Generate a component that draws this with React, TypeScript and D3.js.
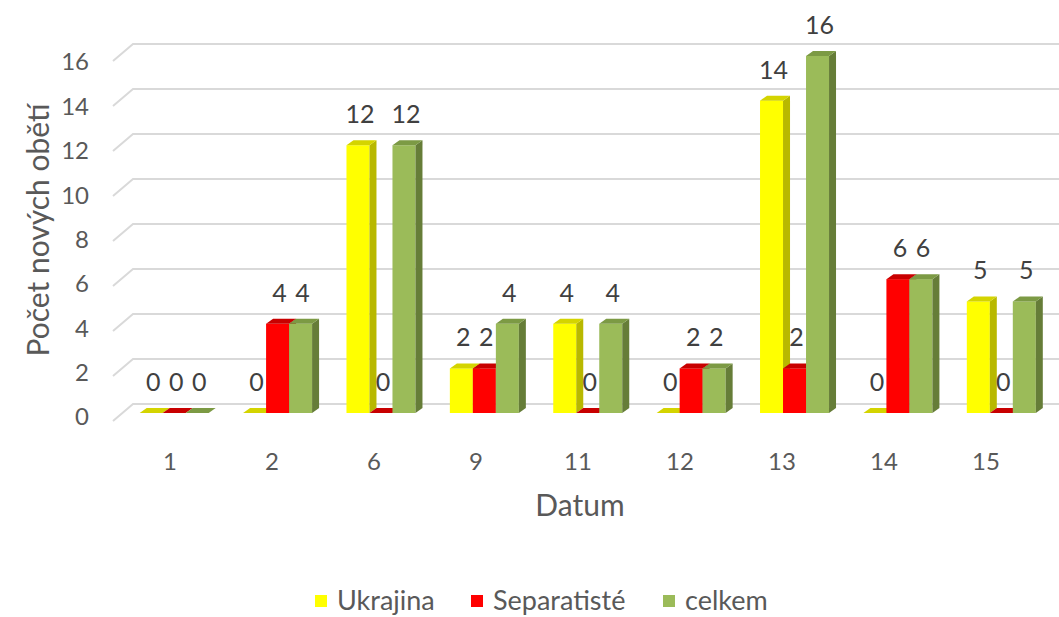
import React from 'react';
import * as d3 from 'd3';

const categories = ['1', '2', '6', '9', '11', '12', '13', '14', '15'];
const ukrajina = [0, 0, 12, 2, 4, 0, 14, 0, 5];
const separatiste = [0, 4, 0, 2, 0, 2, 2, 6, 0];
const celkem = [0, 4, 12, 4, 4, 2, 16, 6, 5];
const yTicks = [0, 2, 4, 6, 8, 10, 12, 14, 16];

const series = [
  { name: 'Ukrajina', values: ukrajina, front: '#FFFF00', side: '#B8B800', top: '#D4D400' },
  { name: 'Separatisté', values: separatiste, front: '#FF0000', side: '#B00000', top: '#C80000' },
  { name: 'celkem', values: celkem, front: '#9BBB59', side: '#667D38', top: '#7C9A44' },
];

const W = 1059;
const H = 617;
const font = 'Lato, "Open Sans", sans-serif';
const textColor = '#595959';

export default function App() {
  // 3D look: bars on a plane slightly behind the axis labels
  const dx = 7;
  const dy = 5;
  const barW = 23;

  const xLabel = d3.scalePoint<string>().domain(categories).range([170, 986]);
  const xGroup = d3.scaleBand<string>().domain(categories).range([122.5, 1053]).paddingInner(0).paddingOuter(0);
  const groupStart = (c: string) => xGroup(c)! + (xGroup.bandwidth() - 3 * barW) / 2;

  const yBar = d3.scaleLinear().domain([0, 16]).range([413, 56]);
  const yGrid = d3.scaleLinear().domain([0, 16]).range([404, 44]);
  const yTick = d3.scaleLinear().domain([0, 16]).range([417, 62]);

  const bars: JSX.Element[] = [];
  const labels: JSX.Element[] = [];
  categories.forEach((c, i) => {
    series.forEach((s, j) => {
      const v = s.values[i];
      const x0 = groupStart(c) + j * barW;
      const x1 = x0 + barW;
      const yt = yBar(v);
      const yb = yBar(0);
      bars.push(
        <g key={`${c}-${j}`}>
          <rect x={x0} y={yt} width={barW} height={yb - yt} fill={s.front} />
          <path d={`M${x1},${yt}L${x1 + dx},${yt - dy}L${x1 + dx},${yb - dy}L${x1},${yb}Z`} fill={s.side} />
          <path d={`M${x0},${yt}L${x1},${yt}L${x1 + dx},${yt - dy}L${x0 + dx},${yt - dy}Z`} fill={s.top} />
        </g>
      );
      labels.push(
        <text key={`l-${c}-${j}`} x={x0 + barW / 2 + 2} y={yt - 22} textAnchor="middle"
          fontSize={25} fill="#404040" fontFamily={font}>{v}</text>
      );
    });
  });

  const legendItems = [
    { x: 315, ...series[0] },
    { x: 471, ...series[1] },
    { x: 663, ...series[2] },
  ];

  return (
    <svg width={W} height={H} style={{ position: 'absolute', left: 0, top: 0, background: '#fff' }}>
      {/* gridlines on the back wall */}
      {yTicks.map(t => (
        <path key={`g${t}`} d={`M113,${yGrid(t) + 17}L133,${yGrid(t)}L${W},${yGrid(t)}`}
          fill="none" stroke="#D9D9D9" strokeWidth={2} />
      ))}
      {/* y tick labels */}
      {yTicks.map(t => (
        <text key={`t${t}`} x={89} y={yTick(t)} dy="0.35em" textAnchor="end" fontSize={24}
          fill={textColor} fontFamily={font}>{t}</text>
      ))}
      {bars}
      {labels}
      {/* category labels */}
      {categories.map(c => (
        <text key={`c${c}`} x={xLabel(c)} y={462} dy="0.35em" textAnchor="middle" fontSize={24}
          fill={textColor} fontFamily={font}>{c}</text>
      ))}
      <text x={580} y={505} dy="0.35em" textAnchor="middle" fontSize={30} fill={textColor} fontFamily={font}>Datum</text>
      <text transform="translate(38,230) rotate(-90)" dy="0.35em" textAnchor="middle" fontSize={30}
        fill={textColor} fontFamily={font}>Počet nových obětí</text>
      {legendItems.map(l => (
        <g key={l.name}>
          <rect x={l.x} y={595} width={12} height={12} fill={l.front} />
          <text x={l.x + 22} y={601} dy="0.35em" fontSize={27} fill={textColor} fontFamily={font}>{l.name}</text>
        </g>
      ))}
    </svg>
  );
}
